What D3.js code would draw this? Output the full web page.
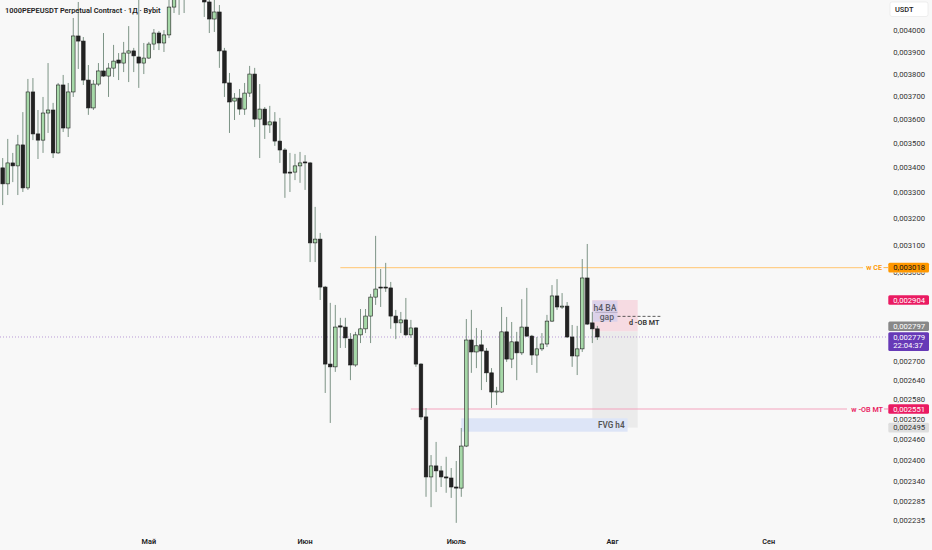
<!DOCTYPE html>
<html><head><meta charset="utf-8">
<script src="https://cdn.jsdelivr.net/npm/d3@7"></script>
<style>
html,body{margin:0;padding:0;background:#f8f8f8;}
svg{display:block;font-family:Roboto,"Noto Sans",sans-serif;}
</style></head><body>
<svg id="c" width="932" height="550"></svg>
<script>
// ---------- data ----------
const startDate = "2025-04-02";   // first daily candle
const open = [0.003398,0.003334,0.003418,0.003406,0.003492,0.003318,0.003719,0.003538,0.003512,0.003627,0.003640,0.003459,0.003750,0.003563,0.003719,0.003975,0.003951,0.003772,0.003649,0.003754,0.003813,0.003790,0.003826,0.003863,0.003849,0.003895,0.003905,0.003877,0.003849,0.003872,0.003937,0.003989,0.003942,0.003980,0.004114,0.004259,0.004188,0.004299,0.004351,0.004274,0.004198,0.004139,0.004056,0.004090,0.003905,0.003759,0.003679,0.003692,0.003644,0.003714,0.003799,0.003601,0.003644,0.003576,0.003589,0.003508,0.003471,0.003381,0.003381,0.003406,0.003422,0.003418,0.003108,0.003122,0.002949,0.002691,0.002682,0.002816,0.002812,0.002772,0.002688,0.002786,0.002806,0.002849,0.002914,0.002949,0.002949,0.002946,0.002849,0.002826,0.002836,0.002786,0.002809,0.002691,0.002527,0.002353,0.002384,0.002370,0.002353,0.002350,0.002325,0.002322,0.002441,0.002769,0.002730,0.002753,0.002733,0.002663,0.002603,0.002603,0.002796,0.002707,0.002763,0.002727,0.002812,0.002782,0.002720,0.002740,0.002756,0.002832,0.002918,0.002880,0.002883,0.002779,0.002717,0.002740,0.002981,0.002826,0.002806];
const high = [0.003438,0.003517,0.003459,0.003534,0.003631,0.003777,0.003781,0.003640,0.003697,0.003849,0.003671,0.003759,0.003795,0.003759,0.004061,0.004139,0.003970,0.003840,0.003772,0.003849,0.003989,0.003849,0.003933,0.003895,0.003947,0.004022,0.003919,0.004159,0.003942,0.003947,0.004008,0.003999,0.004003,0.004164,0.004299,0.004340,0.004377,0.004403,0.004429,0.004325,0.004249,0.004164,0.004159,0.004124,0.003919,0.003804,0.003714,0.003732,0.003759,0.003836,0.003827,0.003754,0.003653,0.003658,0.003631,0.003606,0.003479,0.003459,0.003455,0.003463,0.003450,0.003422,0.003244,0.003145,0.002953,0.002894,0.002887,0.002843,0.002843,0.002792,0.002796,0.002873,0.002873,0.002925,0.003134,0.003013,0.003035,0.002967,0.002870,0.002863,0.002911,0.002836,0.002812,0.002694,0.002554,0.002415,0.002453,0.002384,0.002410,0.002378,0.002398,0.002494,0.002839,0.002870,0.002809,0.002802,0.002743,0.002678,0.002619,0.002880,0.002846,0.002829,0.002796,0.002907,0.002946,0.002786,0.002779,0.002792,0.002853,0.002956,0.002977,0.002928,0.002897,0.002819,0.002816,0.003049,0.003104,0.002863,0.002816];
const low = [0.003251,0.003290,0.003341,0.003290,0.003302,0.003310,0.003512,0.003434,0.003459,0.003542,0.003438,0.003455,0.003546,0.003525,0.003697,0.003822,0.003750,0.003619,0.003640,0.003745,0.003786,0.003697,0.003786,0.003772,0.003808,0.003763,0.003808,0.003737,0.003799,0.003868,0.003909,0.003909,0.003900,0.003965,0.004085,0.004076,0.004085,0.004174,0.004188,0.004164,0.004066,0.003989,0.003994,0.003827,0.003697,0.003542,0.003597,0.003619,0.003619,0.003697,0.003567,0.003438,0.003517,0.003542,0.003488,0.003418,0.003279,0.003302,0.003349,0.003338,0.003310,0.003038,0.003038,0.002904,0.002600,0.002509,0.002666,0.002743,0.002743,0.002640,0.002682,0.002759,0.002792,0.002759,0.002887,0.002880,0.002932,0.002806,0.002772,0.002792,0.002782,0.002776,0.002682,0.002518,0.002298,0.002270,0.002311,0.002325,0.002309,0.002295,0.002228,0.002298,0.002438,0.002663,0.002678,0.002609,0.002634,0.002554,0.002563,0.002600,0.002698,0.002678,0.002640,0.002720,0.002779,0.002688,0.002663,0.002733,0.002746,0.002829,0.002870,0.002873,0.002776,0.002682,0.002656,0.002730,0.002819,0.002759,0.002769];
const close = [0.003334,0.003418,0.003406,0.003492,0.003318,0.003719,0.003538,0.003512,0.003627,0.003640,0.003459,0.003750,0.003563,0.003719,0.003975,0.003951,0.003772,0.003649,0.003754,0.003813,0.003790,0.003826,0.003858,0.003849,0.003895,0.003905,0.003882,0.003849,0.003872,0.003937,0.003989,0.003942,0.003980,0.004114,0.004259,0.004188,0.004299,0.004351,0.004274,0.004198,0.004139,0.004056,0.004090,0.003905,0.003759,0.003675,0.003692,0.003644,0.003714,0.003799,0.003601,0.003644,0.003576,0.003589,0.003508,0.003471,0.003377,0.003377,0.003406,0.003418,0.003418,0.003108,0.003122,0.002949,0.002691,0.002682,0.002812,0.002812,0.002776,0.002688,0.002786,0.002806,0.002849,0.002914,0.002942,0.002946,0.002946,0.002849,0.002826,0.002836,0.002786,0.002809,0.002691,0.002527,0.002353,0.002384,0.002370,0.002353,0.002350,0.002325,0.002322,0.002441,0.002769,0.002730,0.002750,0.002733,0.002663,0.002603,0.002606,0.002796,0.002707,0.002763,0.002727,0.002812,0.002782,0.002720,0.002740,0.002756,0.002832,0.002918,0.002880,0.002883,0.002779,0.002717,0.002740,0.002981,0.002822,0.002806,0.002779];

const yTicks = [0.004,0.0039,0.0038,0.0037,0.0036,0.0035,0.0034,0.0033,0.0032,0.0031,0.003,0.0027,0.00264,0.00258,0.00252,0.00246,0.0024,0.00234,0.002285,0.002235];
const monthDates = ["2025-05-01","2025-06-01","2025-07-01","2025-08-01","2025-09-01"];
const monthLabels = ["Май","Июн","Июль","Авг","Сен"];
const title = "1000PEPEUSDT Perpetual Contract · 1Д · Bybit";
const currency = "USDT";
const lastPrice = 0.002779, countdown = "22:04:37";
const wCE = {label:"w CE", price:0.003018, from:"2025-06-08"};
const wOB = {label:"w -OB MT", price:0.002551, from:"2025-06-22"};
const fvg = {label:"FVG h4", top:0.002523, bottom:0.002483, from:"2025-07-02", to:"2025-08-04"};
const pos = {from:"2025-07-28", to:"2025-08-06", stop:0.002904, entry:0.002797, target:0.002495};
const gap = {label1:"h4 BA", label2:"gap", top:0.002902, bottom:0.002830, from:"2025-07-28", to:"2025-08-02"};
const dOB = {label:"d -OB MT", price:0.002848, from:"2025-08-02", to:"2025-08-10T12:00:00Z"};

// ---------- chart ----------
const W = 932, H = 550, plotRight = 886;
const svg = d3.select("#c");
const fmt = v => v.toFixed(6).replace(".", ",");
const parse = s => new Date(s.length > 10 ? s : s + "T00:00:00Z");

const x = d3.scaleUtc().domain([parse(startDate), parse("2025-09-01")]).range([2.7, 768.7]);
const y = d3.scaleLog().domain([0.002235, 0.004]).range([520.2, 30.7]);

const candles = open.map((o, i) => ({
  date: d3.utcDay.offset(parse(startDate), i), o, h: high[i], l: low[i], c: close[i]
}));

svg.append("rect").attr("width", W).attr("height", H).attr("fill", "#f8f8f8");

const defs = svg.append("defs");
defs.append("clipPath").attr("id", "pc").append("rect").attr("width", plotRight).attr("height", 532);
const g = svg.append("g").attr("clip-path", "url(#pc)");

// position tool
g.append("rect").attr("x", x(parse(pos.from))).attr("width", x(parse(pos.to)) - x(parse(pos.from)))
  .attr("y", y(pos.stop)).attr("height", y(pos.entry) - y(pos.stop)).attr("fill", "#f6dbe2");
g.append("rect").attr("x", x(parse(pos.from))).attr("width", x(parse(pos.to)) - x(parse(pos.from)))
  .attr("y", y(pos.entry)).attr("height", y(pos.target) - y(pos.entry)).attr("fill", "#ebebeb");
// FVG
g.append("rect").attr("x", x(parse(fvg.from))).attr("width", x(parse(fvg.to)) - x(parse(fvg.from)))
  .attr("y", y(fvg.top)).attr("height", y(fvg.bottom) - y(fvg.top)).attr("fill", "#dde5f7");
// gap box
g.append("rect").attr("x", x(parse(gap.from))).attr("width", x(parse(gap.to)) - x(parse(gap.from)))
  .attr("y", y(gap.top)).attr("height", y(gap.bottom) - y(gap.top)).attr("fill", "#dcd2ea");

// levels
g.append("line").attr("x1", x(parse(wCE.from))).attr("x2", 863).attr("y1", y(wCE.price)).attr("y2", y(wCE.price))
  .attr("stroke", "#ffcf8a").attr("stroke-width", 1.2);
g.append("line").attr("x1", x(parse(wOB.from))).attr("x2", 847).attr("y1", y(wOB.price)).attr("y2", y(wOB.price))
  .attr("stroke", "#f3a3bd").attr("stroke-width", 1.2);
// last price dotted line
g.append("line").attr("x1", 0).attr("x2", plotRight).attr("y1", y(lastPrice)).attr("y2", y(lastPrice))
  .attr("stroke", "#b99ad6").attr("stroke-width", 1).attr("stroke-dasharray", "1,2");

// candles
const bw = 3.6;
const cg = g.append("g");
cg.selectAll("line.w").data(candles).join("line")
  .attr("x1", d => x(d.date)).attr("x2", d => x(d.date))
  .attr("y1", d => y(d.h)).attr("y2", d => y(d.l))
  .attr("stroke", "#7d9486").attr("stroke-width", 1);
cg.selectAll("rect.b").data(candles).join("rect")
  .attr("x", d => x(d.date) - bw / 2).attr("width", bw)
  .attr("y", d => y(Math.max(d.o, d.c)))
  .attr("height", d => Math.max(1, Math.abs(y(d.o) - y(d.c))))
  .attr("fill", d => d.c >= d.o ? "#a6d8a8" : "#222222")
  .attr("stroke", "#1c1c1c").attr("stroke-width", 0.6);

// texts on drawings
g.append("line").attr("x1", x(parse(dOB.from))).attr("x2", x(parse(dOB.to))).attr("y1", y(dOB.price)).attr("y2", y(dOB.price))
  .attr("stroke", "#333").attr("stroke-width", 0.8).attr("stroke-dasharray", "3,2");
const gx = (x(parse(gap.from)) + x(parse(gap.to))) / 2;
g.append("text").attr("x", gx).attr("y", y(gap.top) + 10).attr("text-anchor", "middle")
  .attr("font-size", 8.6).attr("font-weight", 500).attr("fill", "#5a5a66").text(gap.label1);
g.append("line").attr("x1", x(parse(gap.from)) + 3).attr("x2", x(parse(gap.to))).attr("y1", y(gap.top) + 11.8).attr("y2", y(gap.top) + 11.8)
  .attr("stroke", "#9a94a8").attr("stroke-width", 0.6);
g.append("text").attr("x", gx + 2).attr("y", y(gap.top) + 19.5).attr("text-anchor", "middle")
  .attr("font-size", 8.6).attr("font-weight", 500).attr("fill", "#5a5a66").text(gap.label2);
g.append("text").attr("x", x(parse(dOB.to)) - 1).attr("y", y(dOB.price) + 8.5).attr("text-anchor", "end")
  .attr("font-size", 7.2).attr("font-weight", 600).attr("fill", "#333").text(dOB.label);
g.append("text").attr("x", x(parse(fvg.to)) - 3).attr("y", (y(fvg.top) + y(fvg.bottom)) / 2 + 3)
  .attr("text-anchor", "end").attr("font-size", 8.2).attr("font-weight", 600).attr("fill", "#555").text(fvg.label);

// level labels near axis
svg.append("text").attr("x", 882).attr("y", y(wCE.price) + 2.6).attr("text-anchor", "end")
  .attr("font-size", 7.2).attr("font-weight", 600).attr("fill", "#ff9800").text(wCE.label);
svg.append("line").attr("x1", 883.5).attr("x2", 888).attr("y1", y(wCE.price)).attr("y2", y(wCE.price)).attr("stroke", "#ffb74d");
svg.append("text").attr("x", 883).attr("y", y(wOB.price) + 2.6).attr("text-anchor", "end")
  .attr("font-size", 7.2).attr("font-weight", 600).attr("fill", "#e91e63").text(wOB.label);
svg.append("line").attr("x1", 884).attr("x2", 888).attr("y1", y(wOB.price)).attr("y2", y(wOB.price)).attr("stroke", "#f48fb1");

// title
svg.append("text").attr("x", 5).attr("y", 12.6).attr("font-size", 7.4).attr("font-weight", 600)
  .attr("fill", "#222").text(title);

// axis price labels (drawn first so they can hide the tick under them)
const lh = 9.6;
const labels = [
  {price: wCE.price, bg: "#ff9800", fg: "#111", shift: 0},
  {price: pos.stop, bg: "#ea1b62", fg: "#fff", shift: 0},
  {price: pos.entry, bg: "#888888", fg: "#fff", shift: -5.3},
  {price: wOB.price, bg: "#ea1b62", fg: "#fff", shift: 0},
  {price: pos.target, bg: "#dedede", fg: "#333", shift: 0}
];
// clip for ticks so that a tick under the orange label only shows its lower sliver
const ceBottom = y(wCE.price) + lh / 2;
defs.append("clipPath").attr("id", "tc").append("path")
  .attr("d", `M886,0H932V${y(wCE.price) - lh / 2}H886Z M886,${ceBottom}H932V550H886Z`);

// y axis ticks
const axG = svg.append("g").attr("clip-path", "url(#tc)");
axG.selectAll("text").data(yTicks).join("text")
  .attr("x", 893.3).attr("y", d => y(d)).attr("dy", "0.36em")
  .attr("font-size", 7.7).attr("fill", "#333").text(fmt);

// currency box
svg.append("rect").attr("x", 890).attr("y", 2).attr("width", 38).attr("height", 14.5).attr("rx", 2)
  .attr("fill", "#ffffff").attr("stroke", "#e4e4e4").attr("stroke-width", 0.6);
svg.append("text").attr("x", 895).attr("y", 9.4).attr("dy", "0.36em").attr("font-size", 7.4)
  .attr("font-weight", 500).attr("fill", "#222").text(currency);

labels.forEach(L => {
  const cy = y(L.price) + L.shift;
  svg.append("rect").attr("x", 888.3).attr("y", cy - lh / 2).attr("width", 40.7).attr("height", lh)
    .attr("rx", 1.5).attr("fill", L.bg);
  svg.append("text").attr("x", 893.3).attr("y", cy).attr("dy", "0.36em").attr("font-size", 7.7)
    .attr("fill", L.fg).text(fmt(L.price));
});
// last price label with countdown
const ly = y(lastPrice);
svg.append("rect").attr("x", 888.3).attr("y", ly - 4.7).attr("width", 40.7).attr("height", 18.7)
  .attr("rx", 1.5).attr("fill", "#673ab7");
svg.append("text").attr("x", 893.3).attr("y", ly).attr("dy", "0.36em").attr("font-size", 7.7)
  .attr("fill", "#fff").text(fmt(lastPrice));
svg.append("text").attr("x", 893.3).attr("y", ly + 8.6).attr("dy", "0.36em").attr("font-size", 7.7)
  .attr("fill", "#fff").text(countdown);

// x axis month labels
svg.append("g").selectAll("text").data(monthDates).join("text")
  .attr("x", d => x(parse(d))).attr("y", 541.7).attr("dy", "0.36em").attr("text-anchor", "middle")
  .attr("font-size", 7.3).attr("font-weight", 600).attr("fill", "#222")
  .text((d, i) => monthLabels[i]);
</script>
</body></html>
